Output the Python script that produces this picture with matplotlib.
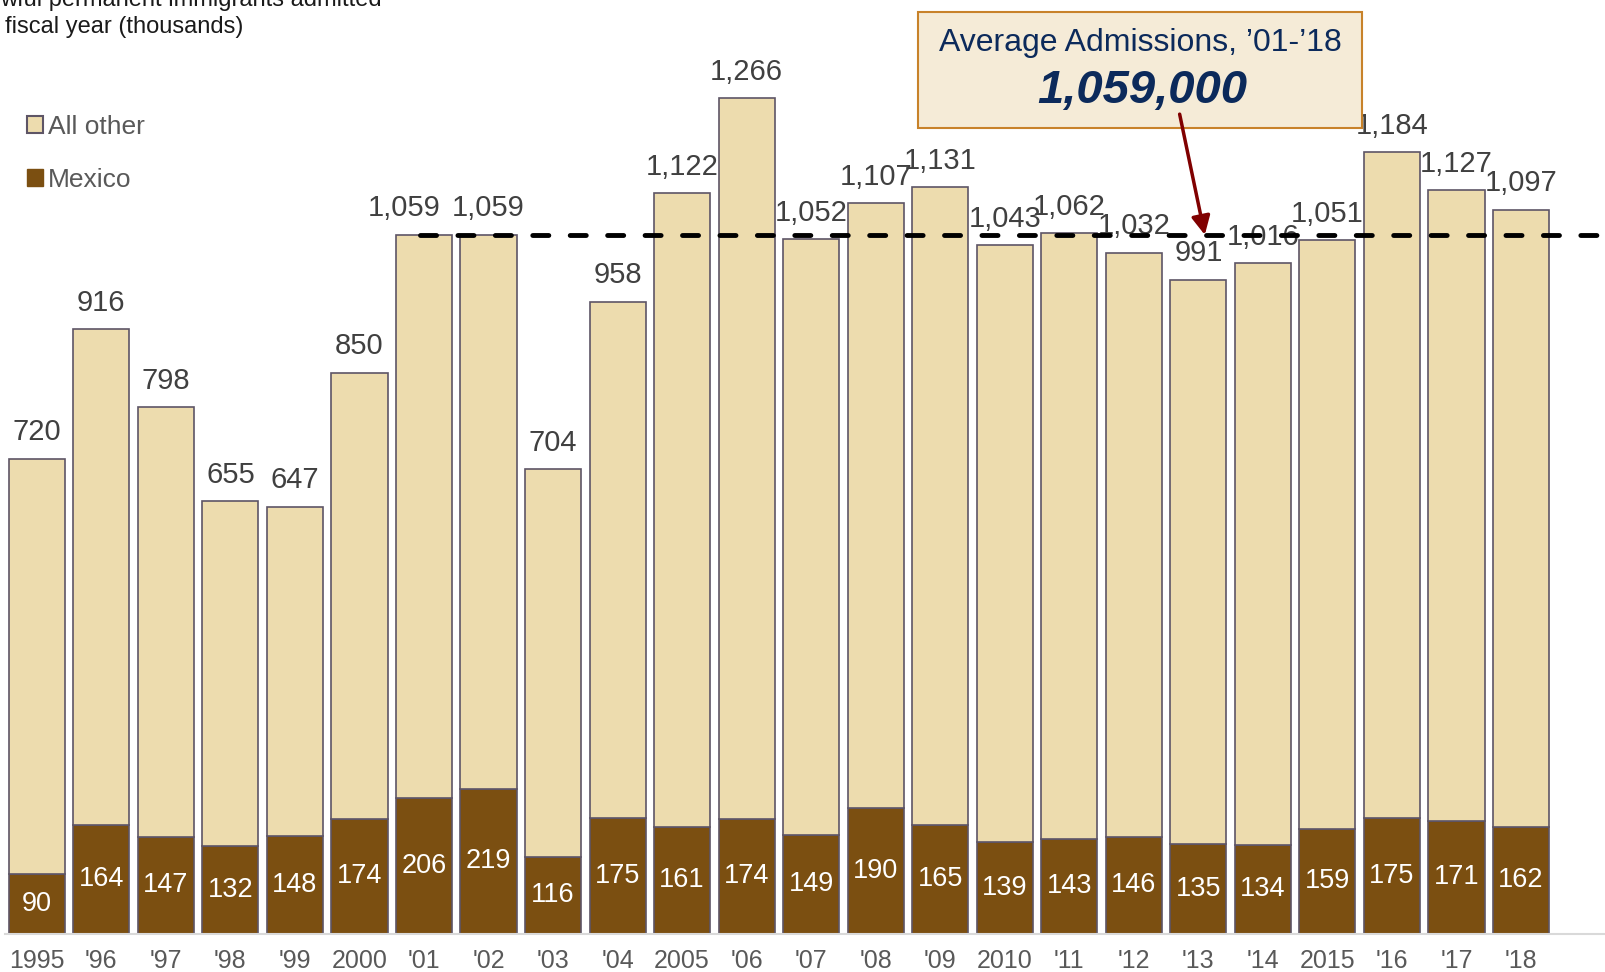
import matplotlib
matplotlib.use("Agg")
from matplotlib import pyplot as plt
from matplotlib.patches import Patch, Rectangle
import numpy as np

years = ["1995", "'96", "'97", "'98", "'99", "2000", "'01", "'02", "'03", "'04",
         "2005", "'06", "'07", "'08", "'09", "2010", "'11", "'12", "'13", "'14",
         "2015", "'16", "'17", "'18"]
totals = [720, 916, 798, 655, 647, 850, 1059, 1059, 704, 958,
          1122, 1266, 1052, 1107, 1131, 1043, 1062, 1032, 991, 1016,
          1051, 1184, 1127, 1097]
mexico = [90, 164, 147, 132, 148, 174, 206, 219, 116, 175,
          161, 174, 149, 190, 165, 139, 143, 146, 135, 134,
          159, 175, 171, 162]
average = 1059
avg_start = "'01"

plt.rcParams['font.family'] = ['Liberation Sans', 'DejaVu Sans']

BEIGE = '#EDDCAE'
BROWN = '#7B4F11'
EDGE = '#5E5566'
GRAY = '#595959'
NAVY = '#0C2A5B'

W, H = 1605, 972
fig = plt.figure(figsize=[W / 100, H / 100], dpi=100)
ax = fig.add_axes([5 / W, (H - 933.5) / H, 1 - 5 / W, 933.5 / H])

x = np.arange(len(years))
other = np.array(totals) - np.array(mexico)
ax.bar(x, mexico, width=0.87, color=BROWN, edgecolor=EDGE, linewidth=1.2, zorder=2)
ax.bar(x, other, bottom=mexico, width=0.87, color=BEIGE, edgecolor=EDGE,
       linewidth=1.2, zorder=2)

i0 = years.index(avg_start)
for xi, t, m in zip(x, totals, mexico):
    dx = -14 if xi == i0 else 0   # nudge first 1,059 left so it clears the next one
    ax.annotate(f'{t:,}', (xi, t), xytext=(dx, 19), textcoords='offset points',
                ha='center', va='center', fontsize=21, color='#404040', zorder=3)
    ax.text(xi, m / 2, f'{m}', ha='center', va='center', fontsize=19.5,
            color='white', zorder=3)

ax.set_xlim(-0.493, -0.493 + (W - 5) / 64.53)
ax.set_ylim(0, 933.5 / 0.6597)

ax.hlines(average, i0 - 0.06, ax.get_xlim()[1], colors='black', linewidth=3.5,
          linestyles=(0, (3.3, 4.4)), capstyle='round', zorder=4)

ax.set_xticks(x)
ax.set_xticklabels(years, fontsize=18, color=GRAY)
ax.tick_params(axis='x', length=0, pad=11)
ax.set_yticks([])
for s in ['top', 'right', 'left']:
    ax.spines[s].set_visible(False)
ax.spines['bottom'].set_color('#D9D9D9')
ax.spines['bottom'].set_linewidth(1.5)
ax.patch.set_alpha(0)

# title (cut off at the top-left as in the source)
fig.text(0, 1 - 6 / H, 'wful permanent immigrants admitted', fontsize=17,
         color='#1a1a1a', va='baseline', ha='left')
fig.text(5 / W, 1 - 33 / H, 'fiscal year (thousands)', fontsize=17,
         color='#1a1a1a', va='baseline', ha='left')

handles = [Patch(facecolor=BEIGE, edgecolor=EDGE, linewidth=1.5, label='All other'),
           Patch(facecolor=BROWN, edgecolor=BROWN, label='Mexico')]
leg = fig.legend(handles=handles, loc='upper left', bbox_to_anchor=(27 / W, 1 - 115 / H),
                 frameon=False, fontsize=19, handlelength=0.6, handleheight=0.6,
                 handletextpad=0.2, labelspacing=1.1, borderpad=0, borderaxespad=0)
for t in leg.get_texts():
    t.set_color(GRAY)

# average admissions box
ax.add_patch(Rectangle((918 / W, 1 - 128 / H), 444 / W, 116 / H,
                       transform=fig.transFigure, facecolor='#F5EBD7',
                       edgecolor='#C8822A', linewidth=1.5, zorder=5, clip_on=False))
ax.text(1140 / W, 1 - 43 / H, 'Average Admissions, \u201901-\u201918', fontsize=23,
        color=NAVY, ha='center', va='center', zorder=6, transform=fig.transFigure)
ax.text(1142 / W, 1 - 91 / H, f'{average * 1000:,}', fontsize=34, color=NAVY,
        fontweight='bold', fontstyle='italic', ha='center', va='center', zorder=6,
        transform=fig.transFigure)

ax.annotate('', xy=(18.1, average), xytext=(17.71, 1242),
            arrowprops=dict(arrowstyle='-|>', color='#800000', lw=2.5,
                            mutation_scale=28, shrinkA=0, shrinkB=0),
            zorder=7, annotation_clip=False)

fig.savefig('out.png', dpi=100)
